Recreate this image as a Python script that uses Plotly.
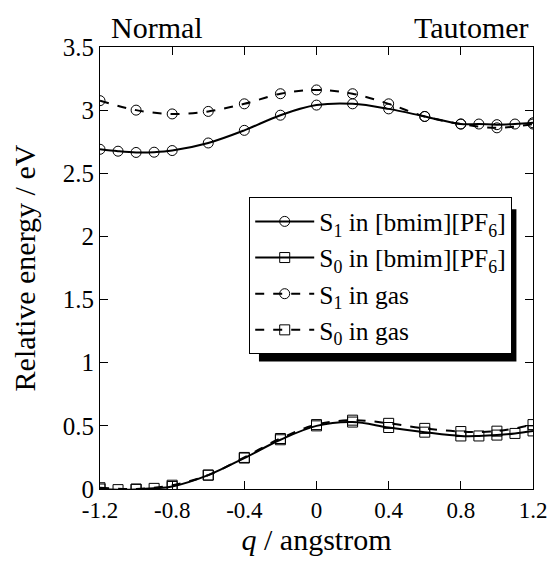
import plotly.graph_objects as go

# Data
q_bmim = [-1.2, -1.1, -1.0, -0.9, -0.8, -0.6, -0.4, -0.2, 0.0, 0.2, 0.4, 0.6, 0.8, 0.9, 1.0, 1.1, 1.2]
s1_bmim = [2.69, 2.675, 2.665, 2.667, 2.68, 2.74, 2.84, 2.96, 3.04, 3.05, 3.01, 2.95, 2.89, 2.89, 2.885, 2.89, 2.90]
s0_bmim = [0.0, -0.005, -0.003, 0.005, 0.02, 0.11, 0.245, 0.39, 0.50, 0.53, 0.487, 0.45, 0.42, 0.42, 0.427, 0.44, 0.46]

q_gas = [-1.2, -1.0, -0.8, -0.6, -0.4, -0.2, 0.0, 0.2, 0.4, 0.6, 0.8, 1.0, 1.2]
s1_gas = [3.075, 3.0, 2.97, 2.99, 3.05, 3.13, 3.16, 3.13, 3.05, 2.95, 2.89, 2.86, 2.89]
s0_gas = [0.01, 0.0, 0.03, 0.11, 0.25, 0.40, 0.51, 0.545, 0.52, 0.48, 0.455, 0.458, 0.51]

x_ticks = [-1.2, -0.8, -0.4, 0, 0.4, 0.8, 1.2]
x_tick_labels = ["-1.2", "-0.8", "-0.4", "0", "0.4", "0.8", "1.2"]
y_ticks = [0, 0.5, 1, 1.5, 2, 2.5, 3, 3.5]
y_tick_labels = ["0", "0.5", "1", "1.5", "2", "2.5", "3", "3.5"]

names = ["S<sub>1</sub> in [bmim][PF<sub>6</sub>]", "S<sub>0</sub> in [bmim][PF<sub>6</sub>]",
         "S<sub>1</sub> in gas", "S<sub>0</sub> in gas"]

FONT = "Liberation Serif"

fig = go.Figure()
series = [
    (q_bmim, s1_bmim, "circle-open", "solid"),
    (q_bmim, s0_bmim, "square-open", "solid"),
    (q_gas, s1_gas, "circle-open", "dash"),
    (q_gas, s0_gas, "square-open", "dash"),
]
for i, (xs, ys, sym, dash) in enumerate(series):
    fig.add_trace(go.Scatter(
        x=xs, y=ys, name=names[i], mode="lines+markers",
        line=dict(color="black", width=2, dash=dash, shape="spline", smoothing=1.0),
        marker=dict(symbol=sym, size=10, color="black", line=dict(width=1, color="black")),
        legendgroup=str(i),
    ))

# The page body has an 8px margin, so the figure is sized/placed to compensate.
W, H = 551, 554
PL, PR, PT, PB = 100, 544, 47, 491          # plot area in window pixels
L, T = PL - 8, PT - 8
R, B = W - (PR - 8), H - (PB - 8)
pw, ph = PR - PL, PB - PT

def px(xw):
    return (xw - PL) / pw

def py(yw):
    return (PB - yw) / ph

# legend drop shadow
fig.add_shape(type="rect", xref="paper", yref="paper",
              x0=px(263), x1=px(527), y0=py(363), y1=py(210),
              fillcolor="black", line=dict(width=0), layer="above")

fig.update_layout(
    width=W, height=H,
    margin=dict(l=L, r=R, t=T, b=B),
    paper_bgcolor="white", plot_bgcolor="white",
    font=dict(family=FONT, color="black", size=25),
    showlegend=True,
    legend=dict(x=px(253), y=py(198), xanchor="left", yanchor="top",
                bgcolor="white", bordercolor="black", borderwidth=1,
                font=dict(family=FONT, size=25.5, color="black"),
                traceorder="grouped", tracegroupgap=0, itemwidth=59),
    annotations=[
        dict(text="Normal", x=px(158), y=py(27), xref="paper", yref="paper",
             xanchor="center", yanchor="middle",
             showarrow=False, font=dict(family=FONT, size=30, color="black")),
        dict(text="Tautomer", x=px(481), y=py(27), xref="paper", yref="paper",
             xanchor="center", yanchor="middle",
             showarrow=False, font=dict(family=FONT, size=30, color="black")),
    ],
)
fig.update_xaxes(range=[-1.2, 1.2], tickvals=x_ticks, ticktext=x_tick_labels,
                 ticks="inside", ticklen=8, tickcolor="black", showline=True, linecolor="black",
                 linewidth=1, mirror="ticks", showgrid=False, zeroline=False,
                 tickfont=dict(family=FONT, size=23, color="black"),
                 title=dict(text="<i>q</i> / angstrom", font=dict(family=FONT, size=30, color="black"), standoff=6))
fig.update_yaxes(range=[0, 3.5], tickvals=y_ticks, ticktext=y_tick_labels,
                 ticks="inside", ticklen=8, tickcolor="black", showline=True, linecolor="black",
                 linewidth=1, mirror="ticks", showgrid=False, zeroline=False,
                 tickfont=dict(family=FONT, size=25, color="black"),
                 title=dict(text="Relative energy / eV", font=dict(family=FONT, size=30, color="black"), standoff=18))

fig.write_html("out.html")
